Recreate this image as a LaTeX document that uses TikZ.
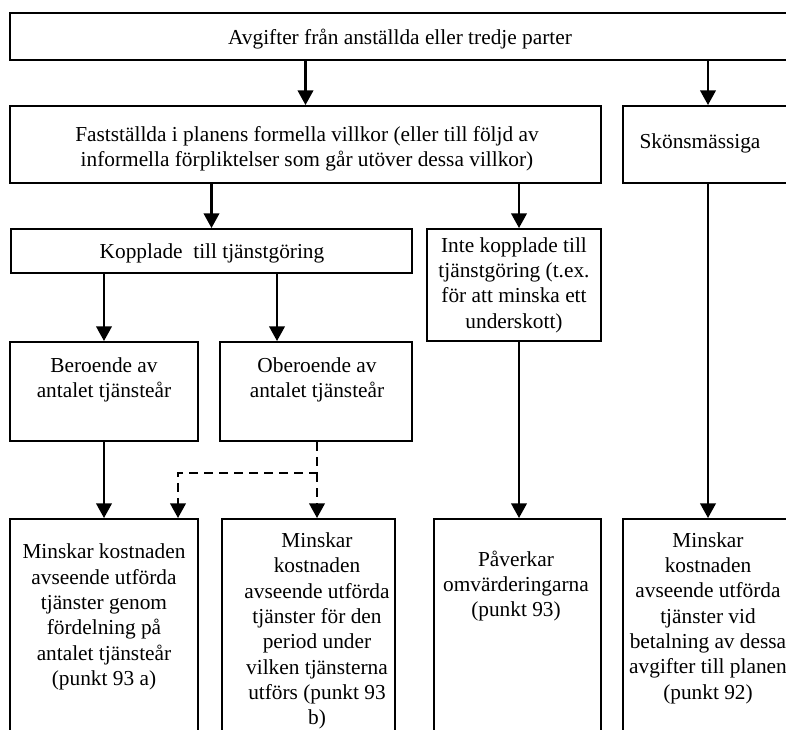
\documentclass[tikz,border=0pt]{standalone}
\usepackage{fontspec}
\setmainfont{Liberation Serif}
\usetikzlibrary{arrows.meta,fit}
\begin{document}
\begin{tikzpicture}[x=0.75pt,y=-0.75pt,
  box/.style={draw, line width=1.4pt, inner sep=0pt},
  txt/.style={align=center, font=\fontsize{16}{19}\selectfont, inner sep=0pt},
  arr/.style={line width=2pt, -{Triangle[length=11pt,width=11.5pt]}},
  darr/.style={arr, dash pattern=on 6.75pt off 4.5pt},
]
\useasboundingbox (0,0) rectangle (786,729);
\clip (0,0) rectangle (786,729);
% boxes
\node[box, fit={(10,13) (793,60)}] (top) {};
\node[box, fit={(10,106) (601,183)}] (fast) {};
\node[box, fit={(623,106) (793,183)}] (skon) {};
\node[box, fit={(11,229) (412,273)}] (kop) {};
\node[box, fit={(427,229) (601,341)}] (inte) {};
\node[box, fit={(10,342) (198,441)}] (ber) {};
\node[box, fit={(220,342) (412,441)}] (ober) {};
\node[box, fit={(10,519) (198,745)}] (b1) {};
\node[box, fit={(222,519) (395,745)}] (b2) {};
\node[box, fit={(434,519) (601,745)}] (b3) {};
\node[box, fit={(623,519) (793,745)}] (b4) {};
% texts
\node[txt] (ttop) at (400,39) {Avgifter från anställda eller tredje parter};
\node[txt] (tfast) at (307,149) {Fastställda i planens formella villkor (eller till följd av\\informella förpliktelser som går utöver dessa villkor)};
\node[txt] (tskon) at (700,143) {Skönsmässiga};
\node[txt] (tkop) at (212,253) {Kopplade\ \ till tjänstgöring};
\node[txt] (tinte) at (514,285) {Inte kopplade till\\tjänstgöring (t.ex.\\för att minska ett\\underskott)};
\node[txt] (tber) at (104,380) {Beroende av\\antalet tjänsteår};
\node[txt] (tober) at (317,380) {Oberoende av\\antalet tjänsteår};
\node[txt] (tb1) at (104,617) {Minskar kostnaden\\avseende utförda\\tjänster genom\\fördelning på\\antalet tjänsteår\\(punkt 93 a)};
\node[txt] (tb2) at (317,631) {Minskar\\kostnaden\\avseende utförda\\tjänster för den\\period under\\vilken tjänsterna\\utförs (punkt 93\\b)};
\node[txt] (tb3) at (516,586) {Påverkar\\omvärderingarna\\(punkt 93)};
\node[txt] (tb4) at (708,618) {Minskar\\kostnaden\\avseende utförda\\tjänster vid\\betalning av dessa\\avgifter till planen\\(punkt 92)};
% column coordinates
\coordinate (cB) at (277,0);
\coordinate (cD) at (178,0);
\coordinate (cE) at (519,0);
\coordinate (split) at (317,473);
% connectors
\draw[arr] (top.south -| fast.north) -- (fast.north);
\draw[arr] (top.south -| skon.north) -- (skon.north);
\draw[arr] (fast.south -| kop.north) -- (kop.north);
\draw[arr] (fast.south -| cE) -- (inte.north -| cE);
\draw[arr] (kop.south -| ber.north) -- (ber.north);
\draw[arr] (kop.south -| cB) -- (ober.north -| cB);
\draw[arr] (ber.south) -- (b1.north -| ber.south);
\draw[darr] (ober.south -| split) -- (split) -| (b1.north -| cD);
\draw[darr] (split) -- (b2.north -| split);
\draw[arr] (inte.south -| cE) -- (b3.north -| cE);
\draw[arr] (skon.south) -- (b4.north -| skon.south);
\end{tikzpicture}
\end{document}
